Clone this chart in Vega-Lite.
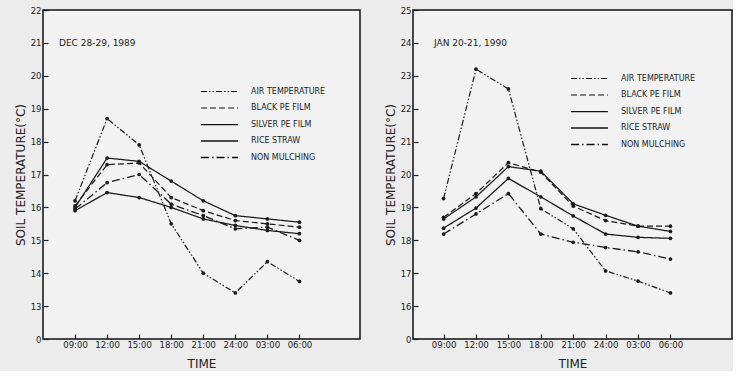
{
  "$schema": "https://vega.github.io/schema/vega-lite/v6.json",
  "background": "#ececec",
  "padding": {"left": 13, "top": 5, "right": 0, "bottom": 0},
  "spacing": 53,
  "bounds": "flush",
  "config": {
    "view": {"stroke": "#111111", "strokeWidth": 1.5, "fill": "#f2f2f2"},
    "axis": {
      "domain": false, "grid": false, "tickColor": "#222222", "tickSize": -5, "tickWidth": 1.2,
      "labelFont": "DejaVu Sans", "labelFontSize": 8.5, "labelColor": "#222222",
      "titleFont": "DejaVu Sans", "titleFontSize": 12, "titleFontWeight": "normal", "titleColor": "#222222"
    },
    "legend": {
      "orient": "none", "title": null, "labelFont": "DejaVu Sans", "labelFontSize": 8, "labelColor": "#222222",
      "symbolType": "M-4,0H4", "symbolSize": 85, "symbolStrokeColor": "#111111", "symbolStrokeWidth": 1.3,
      "labelOffset": 26, "rowPadding": 6.5
    },
    "title": {"font": "DejaVu Sans", "fontSize": 9, "fontWeight": "normal", "color": "#222222", "anchor": "start", "offset": 0, "frame": "group"}
  },
  "datasets": {
    "temps": [
      {"panel": "DEC", "time": "1989-12-28T09:00", "series": "AIR TEMPERATURE", "temp": 16.2},
      {"panel": "DEC", "time": "1989-12-28T12:00", "series": "AIR TEMPERATURE", "temp": 18.7},
      {"panel": "DEC", "time": "1989-12-28T15:00", "series": "AIR TEMPERATURE", "temp": 17.9},
      {"panel": "DEC", "time": "1989-12-28T18:00", "series": "AIR TEMPERATURE", "temp": 15.5},
      {"panel": "DEC", "time": "1989-12-28T21:00", "series": "AIR TEMPERATURE", "temp": 14.0},
      {"panel": "DEC", "time": "1989-12-29T00:00", "series": "AIR TEMPERATURE", "temp": 13.4},
      {"panel": "DEC", "time": "1989-12-29T03:00", "series": "AIR TEMPERATURE", "temp": 14.35},
      {"panel": "DEC", "time": "1989-12-29T06:00", "series": "AIR TEMPERATURE", "temp": 13.75},
      {"panel": "DEC", "time": "1989-12-28T09:00", "series": "BLACK PE FILM", "temp": 16.05},
      {"panel": "DEC", "time": "1989-12-28T12:00", "series": "BLACK PE FILM", "temp": 17.3},
      {"panel": "DEC", "time": "1989-12-28T15:00", "series": "BLACK PE FILM", "temp": 17.35},
      {"panel": "DEC", "time": "1989-12-28T18:00", "series": "BLACK PE FILM", "temp": 16.3},
      {"panel": "DEC", "time": "1989-12-28T21:00", "series": "BLACK PE FILM", "temp": 15.9},
      {"panel": "DEC", "time": "1989-12-29T00:00", "series": "BLACK PE FILM", "temp": 15.6},
      {"panel": "DEC", "time": "1989-12-29T03:00", "series": "BLACK PE FILM", "temp": 15.5},
      {"panel": "DEC", "time": "1989-12-29T06:00", "series": "BLACK PE FILM", "temp": 15.4},
      {"panel": "DEC", "time": "1989-12-28T09:00", "series": "SILVER PE FILM", "temp": 16.0},
      {"panel": "DEC", "time": "1989-12-28T12:00", "series": "SILVER PE FILM", "temp": 17.5},
      {"panel": "DEC", "time": "1989-12-28T15:00", "series": "SILVER PE FILM", "temp": 17.4},
      {"panel": "DEC", "time": "1989-12-28T18:00", "series": "SILVER PE FILM", "temp": 16.8},
      {"panel": "DEC", "time": "1989-12-28T21:00", "series": "SILVER PE FILM", "temp": 16.2},
      {"panel": "DEC", "time": "1989-12-29T00:00", "series": "SILVER PE FILM", "temp": 15.75},
      {"panel": "DEC", "time": "1989-12-29T03:00", "series": "SILVER PE FILM", "temp": 15.65},
      {"panel": "DEC", "time": "1989-12-29T06:00", "series": "SILVER PE FILM", "temp": 15.55},
      {"panel": "DEC", "time": "1989-12-28T09:00", "series": "RICE STRAW", "temp": 15.9},
      {"panel": "DEC", "time": "1989-12-28T12:00", "series": "RICE STRAW", "temp": 16.45},
      {"panel": "DEC", "time": "1989-12-28T15:00", "series": "RICE STRAW", "temp": 16.3},
      {"panel": "DEC", "time": "1989-12-28T18:00", "series": "RICE STRAW", "temp": 16.0},
      {"panel": "DEC", "time": "1989-12-28T21:00", "series": "RICE STRAW", "temp": 15.65},
      {"panel": "DEC", "time": "1989-12-29T00:00", "series": "RICE STRAW", "temp": 15.45},
      {"panel": "DEC", "time": "1989-12-29T03:00", "series": "RICE STRAW", "temp": 15.3},
      {"panel": "DEC", "time": "1989-12-29T06:00", "series": "RICE STRAW", "temp": 15.2},
      {"panel": "DEC", "time": "1989-12-28T09:00", "series": "NON MULCHING", "temp": 15.95},
      {"panel": "DEC", "time": "1989-12-28T12:00", "series": "NON MULCHING", "temp": 16.75},
      {"panel": "DEC", "time": "1989-12-28T15:00", "series": "NON MULCHING", "temp": 17.0},
      {"panel": "DEC", "time": "1989-12-28T18:00", "series": "NON MULCHING", "temp": 16.1},
      {"panel": "DEC", "time": "1989-12-28T21:00", "series": "NON MULCHING", "temp": 15.75},
      {"panel": "DEC", "time": "1989-12-29T00:00", "series": "NON MULCHING", "temp": 15.35},
      {"panel": "DEC", "time": "1989-12-29T03:00", "series": "NON MULCHING", "temp": 15.4},
      {"panel": "DEC", "time": "1989-12-29T06:00", "series": "NON MULCHING", "temp": 15.0},
      {"panel": "JAN", "time": "1990-01-20T09:00", "series": "AIR TEMPERATURE", "temp": 19.27},
      {"panel": "JAN", "time": "1990-01-20T12:00", "series": "AIR TEMPERATURE", "temp": 23.2},
      {"panel": "JAN", "time": "1990-01-20T15:00", "series": "AIR TEMPERATURE", "temp": 22.6},
      {"panel": "JAN", "time": "1990-01-20T18:00", "series": "AIR TEMPERATURE", "temp": 18.96},
      {"panel": "JAN", "time": "1990-01-20T21:00", "series": "AIR TEMPERATURE", "temp": 18.35},
      {"panel": "JAN", "time": "1990-01-21T00:00", "series": "AIR TEMPERATURE", "temp": 17.07},
      {"panel": "JAN", "time": "1990-01-21T03:00", "series": "AIR TEMPERATURE", "temp": 16.76},
      {"panel": "JAN", "time": "1990-01-21T06:00", "series": "AIR TEMPERATURE", "temp": 16.4},
      {"panel": "JAN", "time": "1990-01-20T09:00", "series": "BLACK PE FILM", "temp": 18.7},
      {"panel": "JAN", "time": "1990-01-20T12:00", "series": "BLACK PE FILM", "temp": 19.42},
      {"panel": "JAN", "time": "1990-01-20T15:00", "series": "BLACK PE FILM", "temp": 20.36},
      {"panel": "JAN", "time": "1990-01-20T18:00", "series": "BLACK PE FILM", "temp": 20.07},
      {"panel": "JAN", "time": "1990-01-20T21:00", "series": "BLACK PE FILM", "temp": 19.04},
      {"panel": "JAN", "time": "1990-01-21T00:00", "series": "BLACK PE FILM", "temp": 18.6},
      {"panel": "JAN", "time": "1990-01-21T03:00", "series": "BLACK PE FILM", "temp": 18.43},
      {"panel": "JAN", "time": "1990-01-21T06:00", "series": "BLACK PE FILM", "temp": 18.43},
      {"panel": "JAN", "time": "1990-01-20T09:00", "series": "SILVER PE FILM", "temp": 18.65},
      {"panel": "JAN", "time": "1990-01-20T12:00", "series": "SILVER PE FILM", "temp": 19.32},
      {"panel": "JAN", "time": "1990-01-20T15:00", "series": "SILVER PE FILM", "temp": 20.24},
      {"panel": "JAN", "time": "1990-01-20T18:00", "series": "SILVER PE FILM", "temp": 20.1},
      {"panel": "JAN", "time": "1990-01-20T21:00", "series": "SILVER PE FILM", "temp": 19.11},
      {"panel": "JAN", "time": "1990-01-21T00:00", "series": "SILVER PE FILM", "temp": 18.76},
      {"panel": "JAN", "time": "1990-01-21T03:00", "series": "SILVER PE FILM", "temp": 18.43},
      {"panel": "JAN", "time": "1990-01-21T06:00", "series": "SILVER PE FILM", "temp": 18.27},
      {"panel": "JAN", "time": "1990-01-20T09:00", "series": "RICE STRAW", "temp": 18.37},
      {"panel": "JAN", "time": "1990-01-20T12:00", "series": "RICE STRAW", "temp": 18.98},
      {"panel": "JAN", "time": "1990-01-20T15:00", "series": "RICE STRAW", "temp": 19.88},
      {"panel": "JAN", "time": "1990-01-20T18:00", "series": "RICE STRAW", "temp": 19.32},
      {"panel": "JAN", "time": "1990-01-20T21:00", "series": "RICE STRAW", "temp": 18.74},
      {"panel": "JAN", "time": "1990-01-21T00:00", "series": "RICE STRAW", "temp": 18.19},
      {"panel": "JAN", "time": "1990-01-21T03:00", "series": "RICE STRAW", "temp": 18.09},
      {"panel": "JAN", "time": "1990-01-21T06:00", "series": "RICE STRAW", "temp": 18.06},
      {"panel": "JAN", "time": "1990-01-20T09:00", "series": "NON MULCHING", "temp": 18.19},
      {"panel": "JAN", "time": "1990-01-20T12:00", "series": "NON MULCHING", "temp": 18.8},
      {"panel": "JAN", "time": "1990-01-20T15:00", "series": "NON MULCHING", "temp": 19.42},
      {"panel": "JAN", "time": "1990-01-20T18:00", "series": "NON MULCHING", "temp": 18.19},
      {"panel": "JAN", "time": "1990-01-20T21:00", "series": "NON MULCHING", "temp": 17.94},
      {"panel": "JAN", "time": "1990-01-21T00:00", "series": "NON MULCHING", "temp": 17.78},
      {"panel": "JAN", "time": "1990-01-21T03:00", "series": "NON MULCHING", "temp": 17.65},
      {"panel": "JAN", "time": "1990-01-21T06:00", "series": "NON MULCHING", "temp": 17.43}
    ]
  },
  "resolve": {"scale": {"x": "independent", "y": "independent", "strokeDash": "independent", "strokeWidth": "independent"}, "legend": {"strokeDash": "independent"}},
  "hconcat": [
    {
      "width": 317, "height": 329,
      "data": {"name": "temps"},
      "transform": [{"filter": "datum.panel == 'DEC'"}],
      "title": {"text": "DEC 28-29, 1989", "dx": 16, "dy": 46},
      "mark": {"type": "line", "color": "#1a1a1a", "point": {"filled": true, "size": 14, "color": "#1a1a1a"}},
      "encoding": {
        "x": {"field": "time", "type": "temporal",
              "scale": {"domain": [{"year": 1989, "month": 12, "date": 28, "hours": 6}, {"year": 1989, "month": 12, "date": 29, "hours": 11, "minutes": 40}], "nice": false},
              "axis": {"title": "TIME", "labelAngle": 0, "labelPadding": 6, "titlePadding": 10, "format": "%H:%M",
                       "values": [{"year": 1989, "month": 12, "date": 28, "hours": 9}, {"year": 1989, "month": 12, "date": 28, "hours": 12}, {"year": 1989, "month": 12, "date": 28, "hours": 15}, {"year": 1989, "month": 12, "date": 28, "hours": 18}, {"year": 1989, "month": 12, "date": 28, "hours": 21}, {"year": 1989, "month": 12, "date": 29, "hours": 0}, {"year": 1989, "month": 12, "date": 29, "hours": 3}, {"year": 1989, "month": 12, "date": 29, "hours": 6}],
                       "labelExpr": "datum.label == '00:00' ? '24:00' : datum.label"}},
        "y": {"field": "temp", "type": "quantitative",
              "scale": {"domain": [12, 22], "nice": false, "zero": false},
              "axis": {"title": "SOIL TEMPERATURE(°C)", "values": [12,13,14,15,16,17,18,19,20,21,22],
                       "labelExpr": "datum.value == 12 ? '0' : datum.label", "labelPadding": 7, "titlePadding": 3}},
        "strokeDash": {"field": "series", "type": "nominal",
              "scale": {"domain": ["AIR TEMPERATURE","BLACK PE FILM","SILVER PE FILM","RICE STRAW","NON MULCHING"],
                        "range": [[6,2,1.5,2,1.5,2],[6,3],[1,0],[1,0],[8,3,1.5,3]]},
              "legend": {"legendX": 171, "legendY": 76,
                         "encode": {"symbols": {"update": {"stroke": {"value": "#111111"}, "strokeWidth": {"value": 1.3}, "opacity": {"value": 1}}}}}},
        "strokeWidth": {"field": "series", "type": "nominal",
              "scale": {"domain": ["AIR TEMPERATURE","BLACK PE FILM","SILVER PE FILM","RICE STRAW","NON MULCHING"],
                        "range": [1.2, 1.3, 0.9, 1.6, 1.3]}, "legend": null}
      }
    },
    {
      "width": 319, "height": 329,
      "data": {"name": "temps"},
      "transform": [{"filter": "datum.panel == 'JAN'"}],
      "title": {"text": "JAN 20-21, 1990", "dx": 21, "dy": 46},
      "mark": {"type": "line", "color": "#1a1a1a", "point": {"filled": true, "size": 14, "color": "#1a1a1a"}},
      "encoding": {
        "x": {"field": "time", "type": "temporal",
              "scale": {"domain": [{"year": 1990, "month": 1, "date": 20, "hours": 6, "minutes": 10}, {"year": 1990, "month": 1, "date": 21, "hours": 11, "minutes": 42}], "nice": false},
              "axis": {"title": "TIME", "labelAngle": 0, "labelPadding": 6, "titlePadding": 10, "format": "%H:%M",
                       "values": [{"year": 1990, "month": 1, "date": 20, "hours": 9}, {"year": 1990, "month": 1, "date": 20, "hours": 12}, {"year": 1990, "month": 1, "date": 20, "hours": 15}, {"year": 1990, "month": 1, "date": 20, "hours": 18}, {"year": 1990, "month": 1, "date": 20, "hours": 21}, {"year": 1990, "month": 1, "date": 21, "hours": 0}, {"year": 1990, "month": 1, "date": 21, "hours": 3}, {"year": 1990, "month": 1, "date": 21, "hours": 6}],
                       "labelExpr": "datum.label == '00:00' ? '24:00' : datum.label"}},
        "y": {"field": "temp", "type": "quantitative",
              "scale": {"domain": [15, 25], "nice": false, "zero": false},
              "axis": {"title": "SOIL TEMPERATURE(°C)", "values": [15,16,17,18,19,20,21,22,23,24,25],
                       "labelExpr": "datum.value == 15 ? '0' : datum.label", "labelPadding": 7, "titlePadding": 3}},
        "strokeDash": {"field": "series", "type": "nominal",
              "scale": {"domain": ["AIR TEMPERATURE","BLACK PE FILM","SILVER PE FILM","RICE STRAW","NON MULCHING"],
                        "range": [[6,2,1.5,2,1.5,2],[6,3],[1,0],[1,0],[8,3,1.5,3]]},
              "legend": {"legendX": 171, "legendY": 63,
                         "encode": {"symbols": {"update": {"stroke": {"value": "#111111"}, "strokeWidth": {"value": 1.3}, "opacity": {"value": 1}}}}}},
        "strokeWidth": {"field": "series", "type": "nominal",
              "scale": {"domain": ["AIR TEMPERATURE","BLACK PE FILM","SILVER PE FILM","RICE STRAW","NON MULCHING"],
                        "range": [1.2, 1.3, 0.9, 1.6, 1.3]}, "legend": null}
      }
    }
  ]
}
